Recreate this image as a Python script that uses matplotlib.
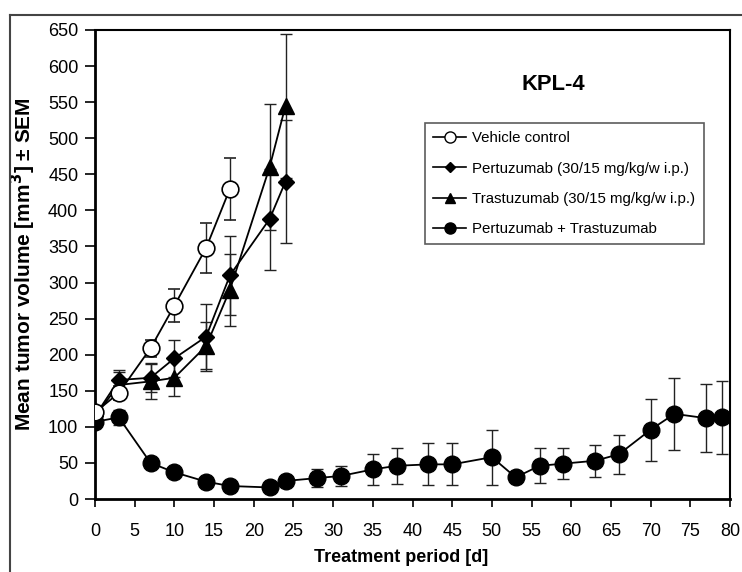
import matplotlib
matplotlib.use("Agg")
import matplotlib.pyplot as plt
from matplotlib.lines import Line2D

plt.rcParams['font.family'] = ['Liberation Sans', 'DejaVu Sans']

# Data
veh_x = [0, 3, 7, 10, 14, 17]
veh_y = [120, 147, 209, 268, 348, 430]
veh_e = [8, 10, 12, 23, 35, 43]

per_x = [0, 3, 7, 10, 14, 17, 22, 24]
per_y = [115, 165, 168, 195, 225, 310, 388, 440]
per_e = [8, 14, 20, 26, 45, 55, 70, 85]

tra_x = [0, 3, 7, 10, 14, 17, 22, 24]
tra_y = [115, 158, 163, 168, 212, 290, 460, 545]
tra_e = [8, 18, 24, 25, 34, 50, 87, 100]

com_x = [0, 3, 7, 10, 14, 17, 22, 24, 28, 31, 35, 38, 42, 45, 50, 53, 56, 59, 63, 66, 70, 73, 77, 79]
com_y = [107, 113, 50, 37, 24, 18, 16, 25, 29, 32, 41, 46, 48, 48, 58, 30, 46, 49, 53, 62, 96, 118, 112, 113]
com_e = [8, 10, 5, 5, 4, 3, 3, 4, 12, 14, 21, 25, 29, 29, 38, 6, 24, 21, 22, 27, 43, 50, 47, 51]

labels = ["Vehicle control",
          "Pertuzumab (30/15 mg/kg/w i.p.)",
          "Trastuzumab (30/15 mg/kg/w i.p.)",
          "Pertuzumab + Trastuzumab"]

fig = plt.figure(figsize=(7.42, 5.72), dpi=100)
ax = fig.add_axes([95/742, 1-499/572, 635/742, 469/572])

kw = dict(color='black', lw=1.3, capsize=4, elinewidth=1.0, capthick=1.0, ecolor='#222222')
ax.errorbar(com_x, com_y, yerr=com_e, marker='o', ms=12, mfc='black', mec='black', zorder=3, **kw)
ax.errorbar(per_x, per_y, yerr=per_e, marker='D', ms=8, mfc='black', mec='black', zorder=4, **kw)
ax.errorbar(tra_x, tra_y, yerr=tra_e, marker='^', ms=11, mfc='black', mec='black', zorder=4, **kw)
ax.errorbar(veh_x, veh_y, yerr=veh_e, marker='o', ms=12, mfc='white', mec='black', mew=1.2, zorder=5, **kw)

ax.set_xlim(0, 80)
ax.set_ylim(0, 650)
ax.set_xticks(range(0, 81, 5))
ax.set_yticks(range(0, 651, 50))
ax.tick_params(axis='both', labelsize=13, width=1.2, direction='out', colors='black')
ax.tick_params(axis='x', length=6, pad=11)
ax.tick_params(axis='y', length=7, pad=5)
for s in ['left', 'bottom']:
    ax.spines[s].set_linewidth(2.0)
for s in ['top', 'right']:
    ax.spines[s].set_linewidth(1.5)

ax.set_xlabel("Treatment period [d]", fontsize=13, fontweight='bold')
ax.set_ylabel("Mean tumor volume [mm$^\\mathbf{3}$] ± SEM", fontsize=15, fontweight='bold')
ax.xaxis.set_label_coords((401-95)/635, (499-549)/469)
ax.yaxis.set_label_coords((38-95)/635, 0.5)

ax.text(57.8, 574, "KPL-4", fontsize=15.8, fontweight='bold', ha='center', va='center')

handles = [
    Line2D([], [], color='black', lw=1.2, marker='o', ms=8, mfc='white', mec='black'),
    Line2D([], [], color='black', lw=1.2, marker='D', ms=5, mfc='black', mec='black'),
    Line2D([], [], color='black', lw=1.2, marker='^', ms=7, mfc='black', mec='black'),
    Line2D([], [], color='black', lw=1.2, marker='o', ms=8, mfc='black', mec='black'),
]
leg = ax.legend(handles, labels, loc='upper left', bbox_to_anchor=((425-95)/635, (499-123)/469),
                fontsize=10.85, frameon=True, fancybox=False, edgecolor='#333333',
                handlelength=2.2, handletextpad=0.4, labelspacing=1.08, borderpad=0.55,
                borderaxespad=0)
leg.get_frame().set_linewidth(1.2)

# outer frame lines
fig.add_artist(Line2D([10/742, 10/742], [0, 1-15/572], transform=fig.transFigure, color='#444444', lw=1.5))
fig.add_artist(Line2D([10/742, 1], [1-15/572, 1-15/572], transform=fig.transFigure, color='#444444', lw=1.5))

fig.savefig("out.png", dpi=100)
